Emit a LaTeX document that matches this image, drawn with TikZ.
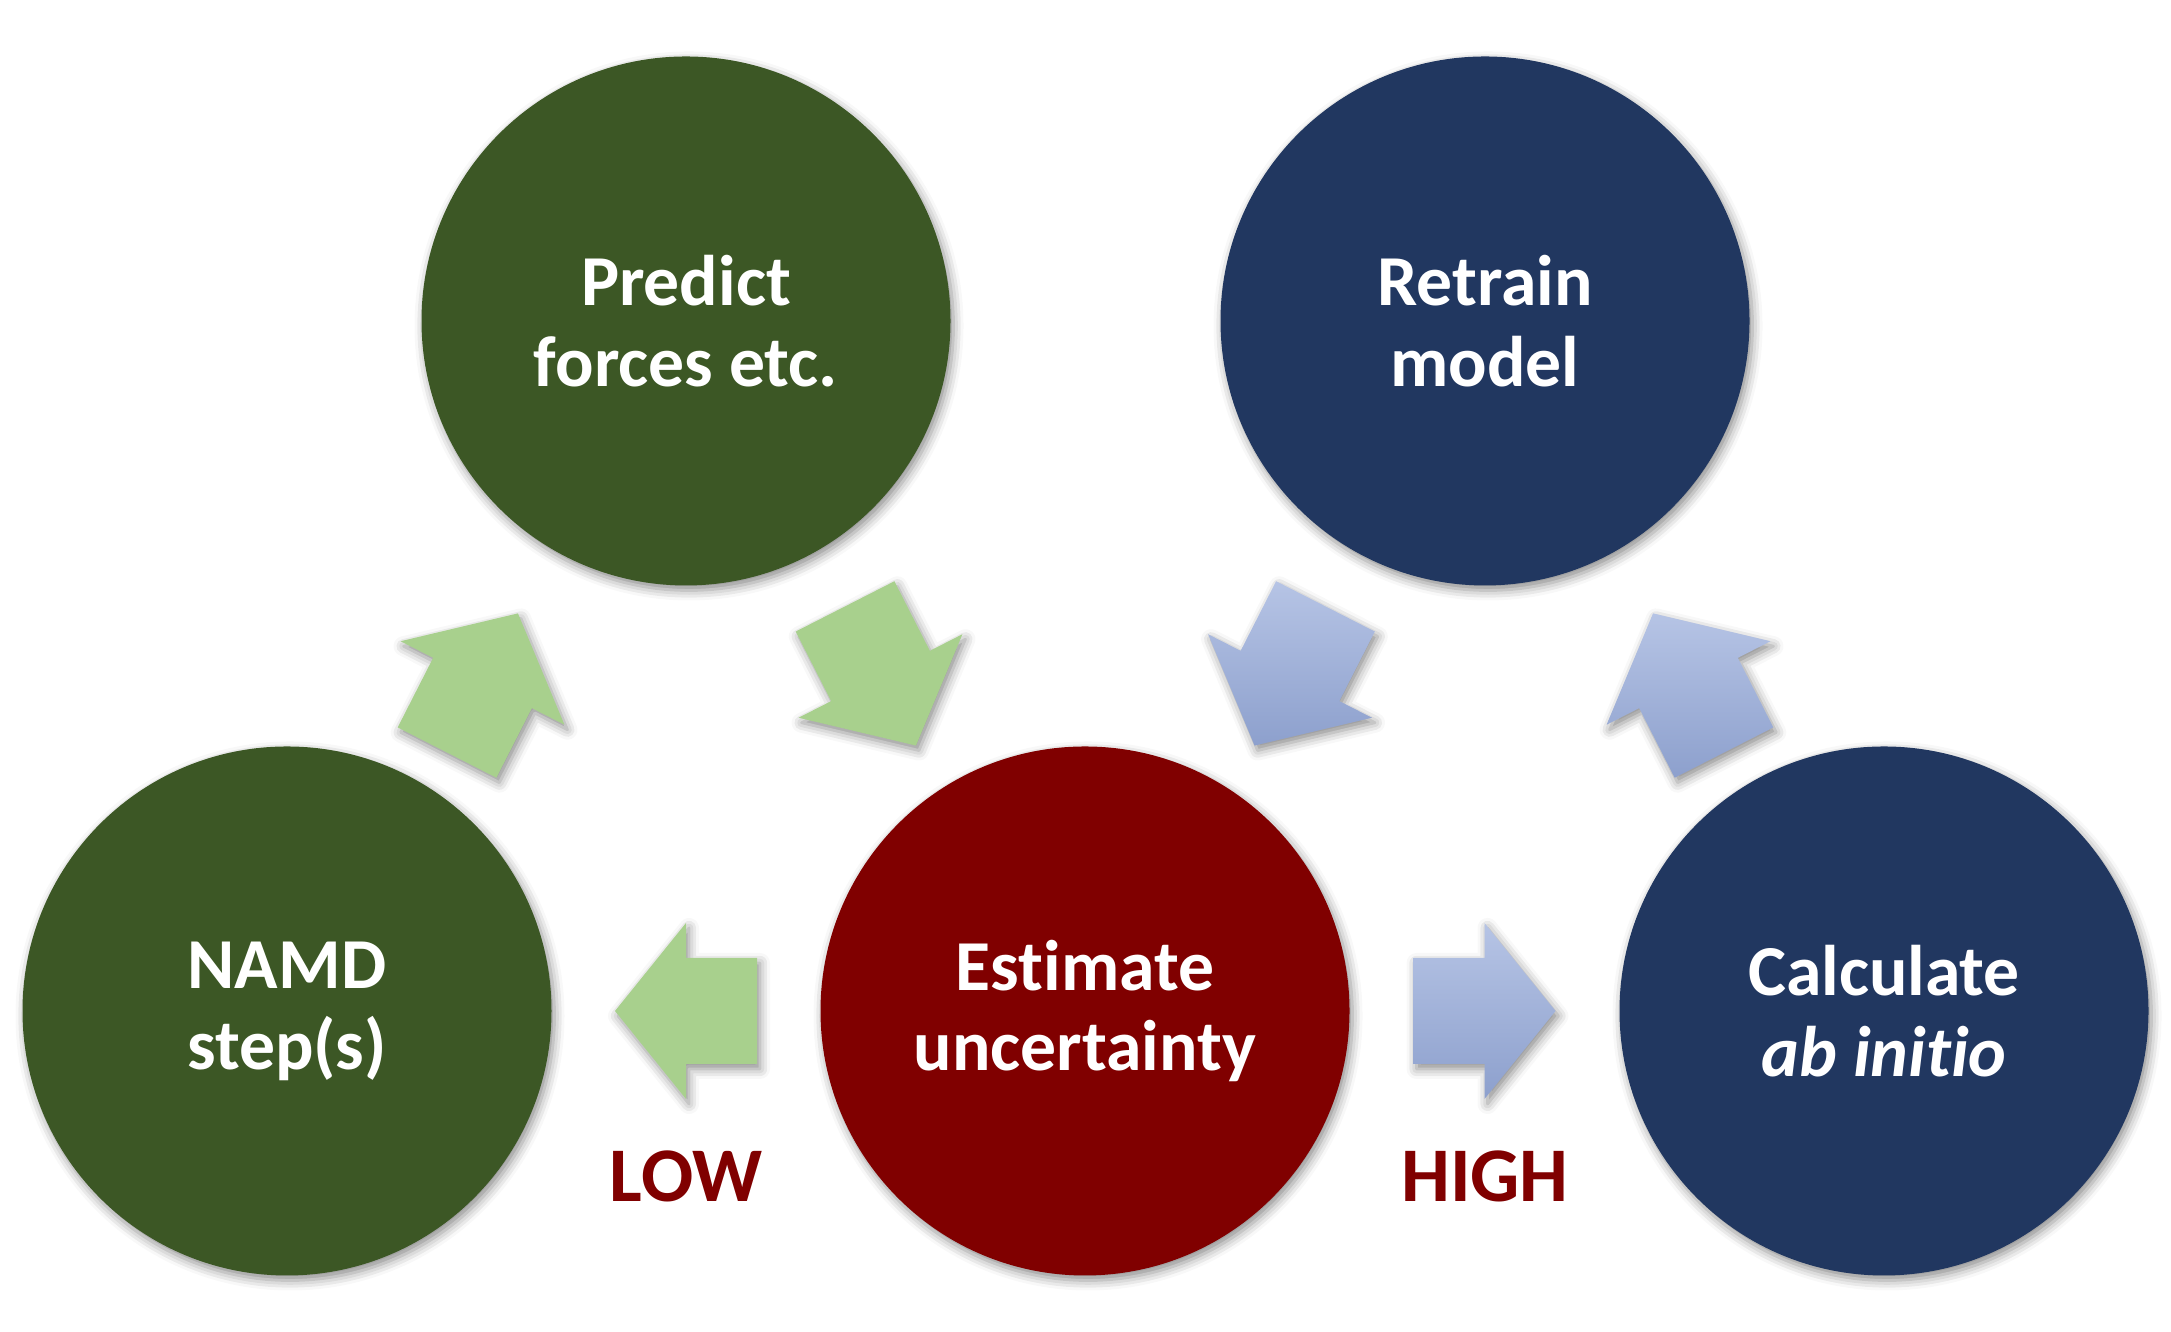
\documentclass[tikz,border=0pt]{standalone}
\usepackage{fontspec}
\setmainfont{Carlito}[Ligatures={NoCommon}]
\usetikzlibrary{calc}
\usetikzlibrary{shadows.blur}

\definecolor{namdgreen}{RGB}{60,87,37}
\definecolor{modelblue}{RGB}{33,55,96}
\definecolor{errred}{RGB}{128,0,0}
\definecolor{lowgreen}{RGB}{168,208,141}
\definecolor{hightop}{RGB}{182,196,229}
\definecolor{highbot}{RGB}{141,160,205}

\tikzset{
  softshadow/.style={blur shadow={shadow xshift=0.03cm,shadow yshift=-0.05cm,
    shadow blur radius=0.1cm,shadow opacity=45}},
  bubble/.style={circle,minimum size=5.29cm,inner sep=0pt,text=white,align=center,
    font=\bfseries\fontsize{20.4}{23}\selectfont,softshadow},
  lowarrow/.style={fill=lowgreen,softshadow},
  higharrow/.style={top color=hightop,bottom color=highbot,softshadow},
  level/.style={text=errred,anchor=base,font=\bfseries\fontsize{22}{26}\selectfont}
}

% block arrow: position, angle, style, extra scaling
\newcommand{\blockarrow}[4]{%
  \begin{scope}[shift={#1},rotate=#2,#4]
  \path[#3] (-0.71,-0.53) -- (0,-0.53) -- (0,-0.88) -- (0.71,0) -- (0,0.88)
    -- (0,0.53) -- (-0.71,0.53) -- cycle;
  \end{scope}}

\begin{document}
\begin{tikzpicture}
\useasboundingbox (0,0) rectangle (21.71,13.32);
\node[bubble,fill=namdgreen] (namd) at (2.87,3.21) {NAMD\\step(s)};
\node[bubble,fill=namdgreen] (predict) at (6.86,10.11) {Predict\\forces etc.};
\node[bubble,fill=errred] (estimate) at (10.85,3.21) {Estimate\\uncertainty};
\node[bubble,fill=modelblue] (retrain) at (14.85,10.11) {Retrain\\model};
\node[bubble,fill=modelblue] (calculate) at (18.84,3.21) {Calculate\\\textit{ab initio}};

\node[level] (low) at (6.86,1.30) {LOW};
\node[level] (high) at (14.85,1.30) {HIGH};

\blockarrow{($(namd)!0.5!(predict)+(-0.04,-0.17)$)}{63}{lowarrow}{xscale=1.1,yscale=1.045}
\blockarrow{($(predict)!0.5!(estimate)+(-0.05,-0.1)$)}{-63}{lowarrow}{xscale=1.1,yscale=1.045}
\blockarrow{($(namd)!0.5!(estimate)$)}{180}{lowarrow}{}
\blockarrow{($(estimate)!0.5!(calculate)$)}{0}{higharrow}{}
\blockarrow{($(retrain)!0.5!(estimate)+(0.05,-0.1)$)}{-117}{higharrow}{xscale=1.1,yscale=1.045}
\blockarrow{($(calculate)!0.5!(retrain)+(0.04,-0.17)$)}{117}{higharrow}{xscale=1.1,yscale=1.045}
\end{tikzpicture}
\end{document}
